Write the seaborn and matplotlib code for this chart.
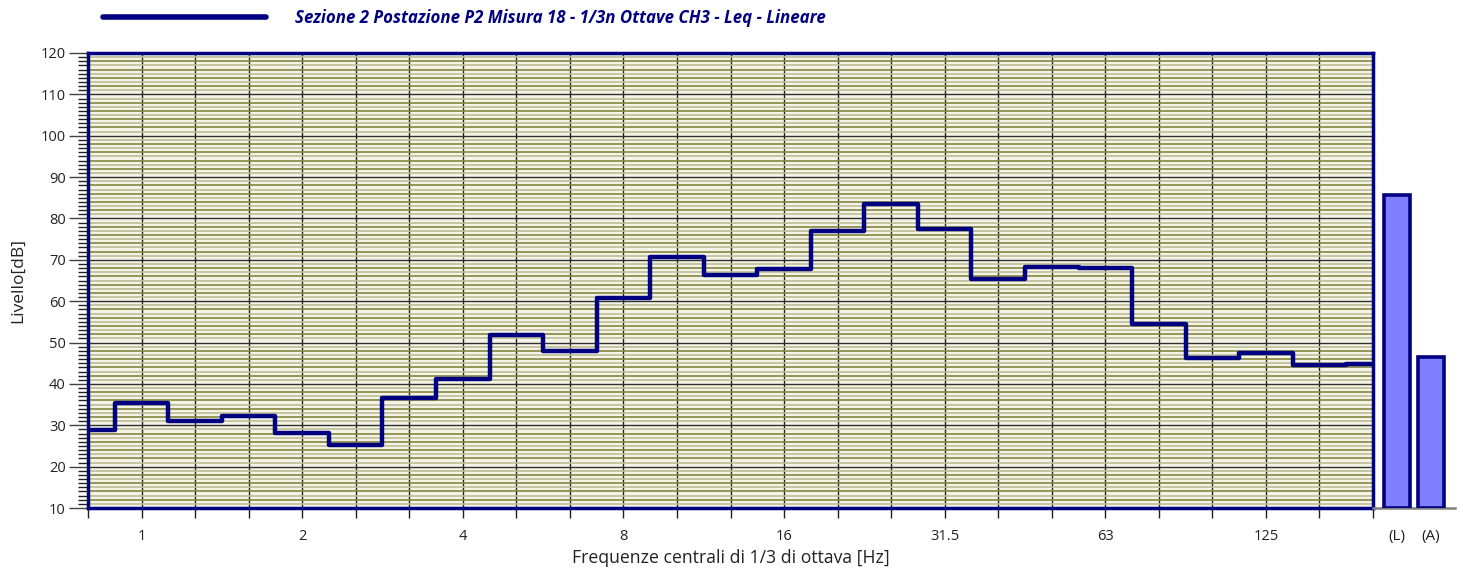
import numpy as np
import pandas as pd
import matplotlib
matplotlib.use("Agg")
import matplotlib.pyplot as plt
import seaborn as sns

# 1/3-octave band centre frequencies [Hz]
bands = ["0.8", "1", "1.25", "1.6", "2", "2.5", "3.15", "4", "5", "6.3", "8",
         "10", "12.5", "16", "20", "25", "31.5", "40", "50", "63", "80", "100",
         "125", "160", "200"]
# Leq per band [dB], linear weighting
leq_db = [28.9, 35.3, 31.0, 32.3, 28.1, 25.2, 36.7, 41.2, 51.8, 48.0, 60.8,
          70.7, 66.3, 67.9, 77.0, 83.5, 77.5, 65.4, 68.3, 68.1, 54.5, 46.2,
          47.4, 44.5, 44.7]
# bands that carry a tick label
labelled_bands = ["1", "2", "4", "8", "16", "31.5", "63", "125"]
# overall levels
total_labels = ["(L)", "(A)"]
total_db = [85.6, 46.6]

series_name = "Sezione 2 Postazione P2 Misura 18 - 1/3n Ottave CH3 - Leq - Lineare"

Y_MIN, Y_MAX = 10, 120
NAVY = "#000080"

sns.set_theme(style="white")
plt.rcParams["font.family"] = ["Open Sans", "DejaVu Sans"]

W, H = 1463, 573
fig = plt.figure(figsize=(W / 100, H / 100), dpi=100)
ax = fig.add_axes([88 / W, 1 - 508 / H, (1373 - 88) / W, (508 - 53) / H])
ax2 = fig.add_axes([1373 / W, 1 - 508 / H, (1455 - 1373) / W, (508 - 53) / H])

df = pd.DataFrame({"pos": np.arange(len(bands)), "level": leq_db})

# --- spectrum panel -------------------------------------------------------
ax.set_xlim(0, len(bands) - 1)
ax.set_ylim(Y_MIN, Y_MAX)
ax.set_facecolor("#f4f4e6")

# 1 dB ruling, alternating tones, darker every 10 dB
fine = np.arange(Y_MIN + 1, Y_MAX)
fine = fine[fine % 10 != 0]
fine_colors = ["#85853f" if v % 2 == 0 else "#bdbd98" for v in fine]
ax.hlines(fine, 0, 1, transform=ax.get_yaxis_transform(), colors=fine_colors,
          linewidth=1.2, zorder=1)
ax.hlines(np.arange(Y_MIN + 10, Y_MAX, 10), 0, 1, transform=ax.get_yaxis_transform(),
          colors="#303030", linewidth=1.0, zorder=1.5)

# vertical rule at every band centre
ax.set_xticks(df["pos"])
ax.set_xticklabels([b if b in labelled_bands else "" for b in bands])
ax.grid(axis="x", color="#202020", linewidth=1.0, zorder=2)
ax.set_axisbelow(True)

sns.lineplot(data=df, x="pos", y="level", color=NAVY, linewidth=3.2,
             drawstyle="steps-mid", ax=ax, label=series_name, zorder=4)

ax.set_yticks(np.arange(Y_MIN, Y_MAX + 1, 10))
ax.set_yticks(np.arange(Y_MIN, Y_MAX + 1, 1), minor=True)
ax.tick_params(axis="y", which="major", left=True, length=14, width=1.0,
               color="#404040", pad=2, labelsize=10.5, labelcolor="#222222")
ax.tick_params(axis="y", which="minor", left=True, length=7, width=1.0,
               color="#202020")
ax.tick_params(axis="x", which="major", bottom=True, length=7, width=1.0,
               color="#202020", pad=8, labelsize=10.5, labelcolor="#222222")

for side in ["left", "right", "top", "bottom"]:
    ax.spines[side].set_visible(True)
    ax.spines[side].set_color(NAVY)
    ax.spines[side].set_linewidth(2.5)
    ax.spines[side].set_zorder(5)

ax.set_xlabel("Frequenze centrali di 1/3 di ottava [Hz]", fontsize=12.7,
              color="#222222", labelpad=4)
ax.set_ylabel("Livello[dB]", fontsize=12.5, color="#222222")
ax.yaxis.set_label_coords(-62 / (1373 - 88), 0.5)

handles, labels = ax.get_legend_handles_labels()
leg = ax.legend(handles, labels, loc="center left",
                bbox_to_anchor=(103 / W, 1 - 18 / H), bbox_transform=fig.transFigure,
                frameon=False, handlelength=9.6, handletextpad=1.75,
                borderpad=0, borderaxespad=0,
                prop={"size": 12.2, "weight": "bold", "style": "italic"})
for t in leg.get_texts():
    t.set_color(NAVY)
for h in leg.legend_handles:
    h.set_linewidth(4)

# --- overall level bars ---------------------------------------------------
xb = np.arange(len(total_labels))
ax2.bar(xb, np.subtract(total_db, Y_MIN), bottom=Y_MIN, width=0.74,
        color="#8080ff", edgecolor=NAVY, linewidth=2.6, zorder=3)
ax2.set_xlim(-0.707, 1.707)
ax2.set_ylim(Y_MIN, Y_MAX)
ax2.set_xticks(xb)
ax2.set_xticklabels(total_labels)
ax2.set_yticks([])
ax2.tick_params(axis="x", length=0, pad=15, labelsize=11, labelcolor="#222222")
for side in ["left", "right", "top"]:
    ax2.spines[side].set_visible(False)
ax2.spines["bottom"].set_color("#808080")
ax2.spines["bottom"].set_linewidth(1.8)
ax2.patch.set_alpha(0)

fig.savefig("out.png", dpi=100)
